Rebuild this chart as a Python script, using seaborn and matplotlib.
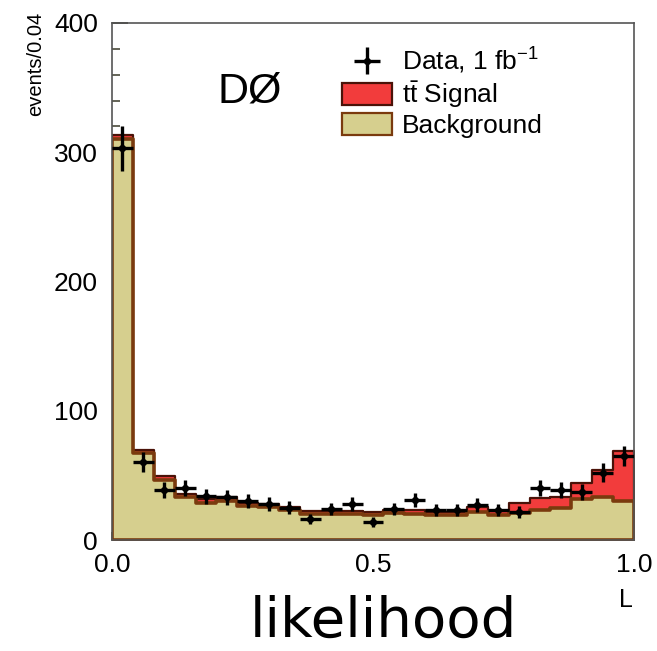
import numpy as np
import pandas as pd
import matplotlib
matplotlib.use("Agg")
import matplotlib.pyplot as plt
from matplotlib.patches import Patch
from matplotlib.ticker import MultipleLocator, FixedLocator
import seaborn as sns

# ---- data ----
bin_edges = [round(0.04 * i, 2) for i in range(26)]
background = [310, 67, 46.5, 33, 28.5, 30.5, 26, 25.3, 23.2, 20.1, 20, 20, 19.3,
              20.6, 20.1, 19.3, 19.3, 21.9, 19.3, 21.1, 23.5, 24.5, 31.5, 33.5, 30]
signal = [3, 3, 3, 2.5, 3, 3, 2.5, 2.3, 2.6, 2.6, 2.7, 2.7, 2.6,
          2.9, 3.1, 2.6, 2.6, 3.9, 3.4, 7.8, 8.7, 9, 12.9, 20.7, 39.1]
data_counts = [303, 60, 39, 40, 34, 33, 30, 28, 25, 16, 24, 28, 14,
               24, 31, 23, 23, 27, 23, 22, 40, 39, 37, 52, 65]
yticks = [0, 100, 200, 300, 400]
xticks = [0.0, 0.5, 1.0]
xticklabels = ["0.0", "0.5", "1.0"]

centers = [(a + b) / 2 for a, b in zip(bin_edges[:-1], bin_edges[1:])]
total = [b + s for b, s in zip(background, signal)]
df = pd.DataFrame({"L": centers, "bkg": background, "total": total, "data": data_counts})

sns.set_style("white")
plt.rcParams["font.family"] = ["Liberation Sans", "DejaVu Sans"]
plt.rcParams["mathtext.fontset"] = "custom"
plt.rcParams["mathtext.rm"] = "Liberation Sans"
plt.rcParams["mathtext.it"] = "Liberation Sans:italic"
plt.rcParams["text.color"] = "black"
plt.rcParams["axes.labelcolor"] = "black"

fig = plt.figure(figsize=(6.57, 6.51), dpi=100)
ax = fig.add_axes([112 / 657, 111 / 651, 522 / 657, 517 / 651])

sig_fill, sig_edge = "#f23c3c", "#4a1208"
bkg_fill, bkg_edge = "#d6cf8e", "#7a3a0e"

sns.histplot(data=df, x="L", weights="total", bins=bin_edges, element="step",
             fill=True, color=sig_fill, alpha=1, edgecolor=sig_edge,
             linewidth=1.6, ax=ax)
sns.histplot(data=df, x="L", weights="bkg", bins=bin_edges, element="step",
             fill=True, color=bkg_fill, alpha=1, edgecolor=bkg_edge,
             linewidth=2.6, ax=ax)

err = ax.errorbar(df["L"], df["data"], xerr=0.02, yerr=np.sqrt(df["data"]),
                  fmt="D", ms=4.5, color="black", elinewidth=2.4, capsize=0,
                  zorder=5, label="Data, 1 fb$^{-1}$")

ax.set_xlim(0, 1)
ax.set_ylim(0, 400)
ax.xaxis.set_major_locator(FixedLocator(xticks))
ax.set_xticklabels(xticklabels)
ax.xaxis.set_minor_locator(MultipleLocator(0.1))
ax.yaxis.set_major_locator(FixedLocator(yticks))
ax.yaxis.set_minor_locator(MultipleLocator(20))

tick_col = "#3a3a2a"
ax.tick_params(axis="y", which="major", direction="in", length=11.5, width=1.3,
               color=tick_col, labelcolor="black", labelsize=19, pad=10,
               left=True, right=False)
ax.tick_params(axis="y", which="minor", direction="in", length=6, width=1.1,
               color=tick_col, left=True, right=False)
ax.tick_params(axis="x", which="both", direction="in", length=6, width=1.1,
               color=tick_col, labelcolor="black", labelsize=19, pad=9,
               bottom=True, top=False)
for sp in ax.spines.values():
    sp.set_color("#555555")
    sp.set_linewidth(1.2)
    sp.set_visible(True)

ax.set_ylabel("events/0.04", fontsize=14.5, loc="top")
ax.yaxis.set_label_coords(-0.128, 1.022)
ax.set_xlabel("L", fontsize=18, ha="right")
ax.xaxis.set_label_coords(0.998, -0.092)

ax.text(0.203, 0.847, "DØ", transform=ax.transAxes, fontsize=31, va="baseline")

handles = [err,
           Patch(facecolor=sig_fill, edgecolor=sig_edge, linewidth=1.6),
           Patch(facecolor=bkg_fill, edgecolor=bkg_edge, linewidth=1.6)]
labels = ["Data, 1 fb$^{-1}$", r"$\mathrm{t\bar{t}}$ Signal", "Background"]
ax.legend(handles, labels, loc="upper left", bbox_to_anchor=(0.44, 0.955),
          frameon=False, fontsize=19, borderpad=0, borderaxespad=0,
          handlelength=1.9, handleheight=0.9, handletextpad=0.38,
          labelspacing=0.1)

fig.text(383 / 657, 14 / 651, "likelihood", fontsize=40.5, family="DejaVu Sans",
         ha="center", va="baseline", color="black")

fig.savefig("out.png", dpi=100)
